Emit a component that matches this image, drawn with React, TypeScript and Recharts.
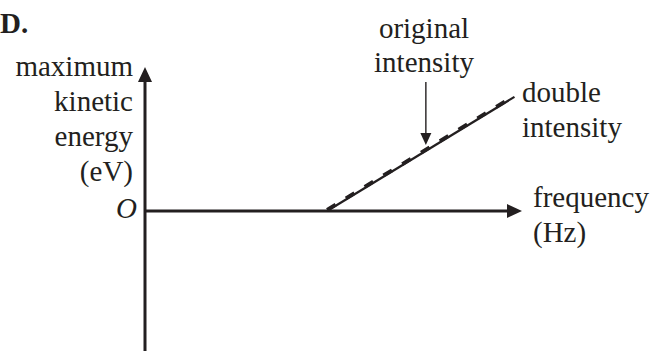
import { ComposedChart, Line, XAxis, YAxis, ReferenceLine, ReferenceDot } from 'recharts';

// photoelectric effect: max KE vs frequency (both intensities give the same line)
const frequency = [4.83, 9.8];
const keOriginal = [0, 3.17];
const keDouble = [0, 3.17];

const X_DOMAIN = [0, 10];
const Y_DOMAIN = [-4, 4];

// pointer arrow for "original intensity"
const pointerX = 7.45;
const pointerTop = 3.58;
const pointerTip = 1.83;

const leftLabel = ['maximum', 'kinetic', 'energy', '(eV)'];
const topLabel = ['original', 'intensity'];
const rightLabel = ['double', 'intensity'];
const xLabel = ['frequency', '(Hz)'];

const INK = '#231f20';
const FONT = '"Liberation Serif", "Times New Roman", serif';

const data = frequency.map((f, i) => ({
  f,
  original: keOriginal[i],
  double: keDouble[i],
}));

const arrowRight = (p: any) => (
  <polygon
    points={`${p.cx},${p.cy} ${p.cx - 15},${p.cy - 7} ${p.cx - 15},${p.cy + 7}`}
    fill={INK}
  />
);

const arrowUp = (p: any) => (
  <polygon
    points={`${p.cx},${p.cy} ${p.cx - 7},${p.cy + 15} ${p.cx + 7},${p.cy + 15}`}
    fill={INK}
  />
);

const arrowDown = (p: any) => (
  <polygon
    points={`${p.cx},${p.cy} ${p.cx - 5.5},${p.cy - 12} ${p.cx + 5.5},${p.cy - 12}`}
    fill={INK}
  />
);

const text = {
  position: 'absolute' as const,
  fontFamily: FONT,
  fontSize: 29,
  color: INK,
  whiteSpace: 'nowrap' as const,
};

export default function App() {
  return (
    <div
      style={{
        position: 'absolute',
        left: 0,
        top: 0,
        width: 653,
        height: 351,
        overflow: 'hidden',
        background: '#fff',
      }}
    >
      <style>{`.dash-line path { transform: translateY(-1.2px); }`}</style>
      <ComposedChart
        width={653}
        height={360}
        data={data}
        margin={{ top: 67, left: 145, right: 131, bottom: 5 }}
      >
        <XAxis type="number" dataKey="f" domain={X_DOMAIN} hide />
        <YAxis type="number" domain={Y_DOMAIN} hide />
        <ReferenceLine
          segment={[{ x: 0, y: Y_DOMAIN[0] }, { x: 0, y: 3.65 }]}
          stroke={INK}
          strokeWidth={3}
          ifOverflow="visible"
        />
        <ReferenceLine
          segment={[{ x: 0, y: 0 }, { x: 9.65, y: 0 }]}
          stroke={INK}
          strokeWidth={3}
          ifOverflow="visible"
        />
        <ReferenceDot x={X_DOMAIN[1]} y={0} shape={arrowRight} ifOverflow="visible" />
        <ReferenceDot x={0} y={Y_DOMAIN[1]} shape={arrowUp} ifOverflow="visible" />
        <ReferenceLine
          segment={[{ x: pointerX, y: pointerTop }, { x: pointerX, y: pointerTip + 0.3 }]}
          stroke={INK}
          strokeWidth={1.4}
          ifOverflow="visible"
        />
        <ReferenceDot x={pointerX} y={pointerTip} shape={arrowDown} ifOverflow="visible" />
        <Line
          type="linear"
          dataKey="double"
          stroke={INK}
          strokeWidth={2.2}
          dot={false}
          activeDot={false}
          isAnimationActive={false}
        />
        <Line
          type="linear"
          dataKey="original"
          className="dash-line"
          stroke={INK}
          strokeWidth={3.8}
          strokeDasharray="10 12"
          dot={false}
          activeDot={false}
          isAnimationActive={false}
        />
      </ComposedChart>

      <div style={{ ...text, left: 0, top: 8.7, fontWeight: 'bold', lineHeight: '29px' }}>D.</div>
      <div style={{ ...text, right: 653 - 133, top: 48.7, textAlign: 'right', lineHeight: '35px' }}>
        {leftLabel.map((t) => (
          <div key={t}>{t}</div>
        ))}
      </div>
      <div style={{ ...text, right: 653 - 137, top: 193.7, fontStyle: 'italic', lineHeight: '29px' }}>
        O
      </div>
      <div
        style={{
          ...text,
          left: 324,
          width: 200,
          top: 11.2,
          textAlign: 'center',
          lineHeight: '34px',
        }}
      >
        {topLabel.map((t) => (
          <div key={t}>{t}</div>
        ))}
      </div>
      <div style={{ ...text, left: 522, top: 74.7, lineHeight: '35px' }}>
        {rightLabel.map((t) => (
          <div key={t}>{t}</div>
        ))}
      </div>
      <div style={{ ...text, left: 533, top: 179.7, lineHeight: '35px' }}>
        {xLabel.map((t) => (
          <div key={t}>{t}</div>
        ))}
      </div>
    </div>
  );
}
